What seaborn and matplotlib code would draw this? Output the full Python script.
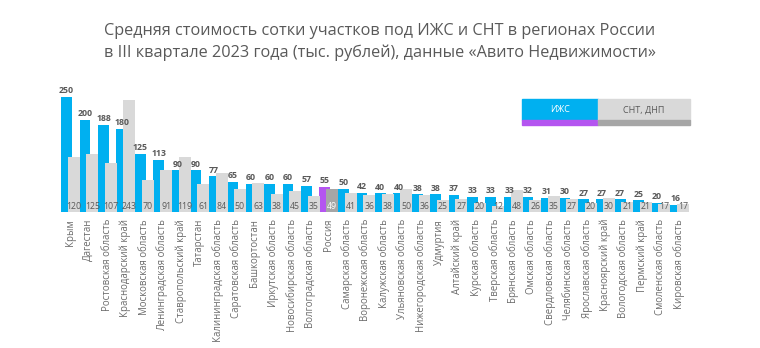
import numpy as np
import pandas as pd
import matplotlib
matplotlib.use("Agg")
import matplotlib.pyplot as plt
import seaborn as sns
from matplotlib.patches import Rectangle

regions = ["Крым", "Дагестан", "Ростовская область", "Краснодарский край",
           "Московская область", "Ленинградская область", "Ставропольский край",
           "Татарстан", "Калининградская область", "Саратовская область",
           "Башкортостан", "Иркутская область", "Новосибирская область",
           "Волгоградская область", "Россия", "Самарская область",
           "Воронежская область", "Калужская область", "Ульяновская область",
           "Нижегородская область", "Удмуртия", "Алтайский край",
           "Курская область", "Тверская область", "Брянская область",
           "Омская область", "Свердловская область", "Челябинская область",
           "Ярославская область", "Красноярский край", "Вологодская область",
           "Пермский край", "Смоленская область", "Кировская область"]
izhs = [250, 200, 188, 180, 125, 113, 90, 90, 77, 65, 60, 60, 60, 57, 55, 50,
        42, 40, 40, 38, 38, 37, 33, 33, 33, 32, 31, 30, 27, 27, 27, 25, 20, 16]
snt = [120, 125, 107, 243, 70, 91, 119, 61, 84, 50, 63, 38, 45, 35, 49, 41,
       36, 38, 50, 36, 25, 27, 20, 12, 48, 26, 35, 27, 20, 30, 21, 21, 17, 17]
legend_labels = ["ИЖС", "СНТ, ДНП"]
title = ("Средняя стоимость сотки участков под ИЖС и СНТ в регионах России\n"
         "в III квартале 2023 года (тыс. рублей), данные «Авито Недвижимости»")

BLUE = "#00B0F0"
PURPLE = "#B455F0"
LGREY = "#D9D9D9"
DGREY = "#A6A6A6"
TXT = "#595959"

sns.set_theme(style="white")
plt.rcParams["font.family"] = ["Open Sans", "DejaVu Sans"]

n = len(regions)
pos = np.arange(n)
df = pd.DataFrame({"region": regions, "izhs": izhs, "snt": snt,
                   "xb": pos - 0.2, "xg": pos + 0.2})
blue_pal = {r: (PURPLE if r == "Россия" else BLUE) for r in regions}
grey_pal = {r: (DGREY if r == "Россия" else LGREY) for r in regions}

fig = plt.figure(figsize=(7.6, 3.48), dpi=100)
ax = fig.add_axes([0.073, 0.391, 0.84, 0.371])

sns.barplot(data=df, x="xb", y="izhs", hue="region", palette=blue_pal,
            native_scale=True, width=0.59, dodge=False, legend=False,
            saturation=1, linewidth=0, ax=ax, zorder=2)
sns.barplot(data=df, x="xg", y="snt", hue="region", palette=grey_pal,
            native_scale=True, width=0.65, dodge=False, legend=False,
            saturation=1, linewidth=0, ax=ax, zorder=3)

for i in range(n):
    ax.text(pos[i] - 0.2, izhs[i] + 4, str(izhs[i]), ha="center", va="bottom",
            fontsize=6.3, fontweight="bold", color=TXT, zorder=5)
    c = "white" if regions[i] == "Россия" else TXT
    ax.text(pos[i] + 0.2, 3, str(snt[i]), ha="center", va="bottom",
            fontsize=6.3, color=c, zorder=5)

ax.set_xlim(-0.8, n - 0.2)
ax.set_ylim(0, 280)
ax.set_xticks(pos)
ax.set_xticklabels(regions, rotation=90, fontsize=6.9, color="#6b6b6b",
                   va="top", ha="center")
ax.tick_params(axis="x", length=0, pad=5)
ax.set_yticks([])
ax.set_xlabel("")
ax.set_ylabel("")
for s in ax.spines.values():
    s.set_visible(False)

fig.text(0.5, 0.935, title, ha="center", va="top", fontsize=11.7,
         color=TXT, linespacing=1.45)

# legend
W, H = 760.0, 348.0
def rect(x0, y0, x1, y1, col):
    fig.patches.append(Rectangle((x0 / W, 1 - y1 / H), (x1 - x0) / W, (y1 - y0) / H,
                                 transform=fig.transFigure, color=col, zorder=1))
rect(522, 99, 598, 120, BLUE)
rect(522, 120, 598, 125, PURPLE)
rect(598, 99, 690, 120, LGREY)
rect(598, 120, 690, 125, DGREY)
fig.text(560 / W, 1 - 110 / H, legend_labels[0], ha="center", va="center",
         fontsize=6.5, color="white")
fig.text(644 / W, 1 - 110 / H, legend_labels[1], ha="center", va="center",
         fontsize=6.5, color=TXT)

fig.savefig("out.png", dpi=100)
